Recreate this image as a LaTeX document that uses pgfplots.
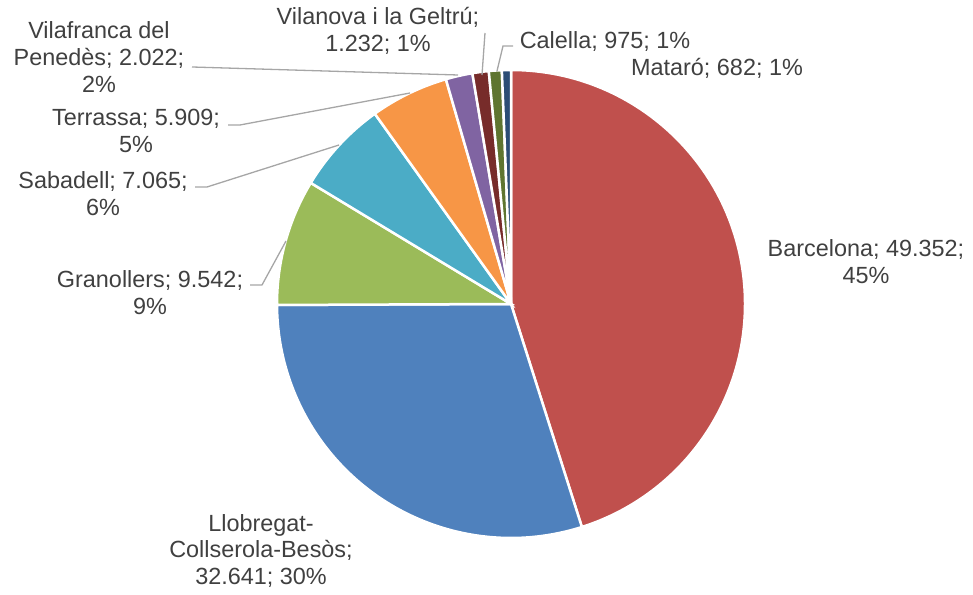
\documentclass[border=0pt]{standalone}
\usepackage{pgfplots}
\usepackage{pgfplotstable}
\pgfplotsset{compat=1.18}
\usepackage{fontspec}
\setmainfont{Liberation Sans}

\definecolor{c0}{HTML}{C0504D}
\definecolor{c1}{HTML}{4F81BD}
\definecolor{c2}{HTML}{9BBB59}
\definecolor{c3}{HTML}{4BACC6}
\definecolor{c4}{HTML}{F79646}
\definecolor{c5}{HTML}{8064A2}
\definecolor{c6}{HTML}{772C2A}
\definecolor{c7}{HTML}{5F7530}
\definecolor{c8}{HTML}{2C4D75}
\definecolor{lbl}{HTML}{404040}
\definecolor{lead}{HTML}{A6A6A6}

% zone, value (clockwise from 12 o'clock)
\pgfplotstableread{
name value
Barcelona 49352
Llobregat 32641
Granollers 9542
Sabadell 7065
Terrassa 5909
Vilafranca 2022
Vilanova 1232
Calella 975
Mataro 682
}\zones

\begin{document}
\begin{tikzpicture}[lab/.style={align=center, text=lbl, font=\fontsize{23.5}{27}\selectfont}]
\begin{axis}[hide axis, scale only axis, width=973bp, height=595bp,
  xmin=0, xmax=973, ymin=0, ymax=595, clip=false]
\path (axis cs:0,0) rectangle (axis cs:973,595);
\pgfplotsextra{
  \gdef\tot{0}
  \foreach \i in {0,...,8}{
    \pgfplotstablegetelem{\i}{value}\of\zones
    \xdef\tot{\fpeval{\tot+\pgfplotsretval}}
  }
  \gdef\cum{0}
  \foreach \i in {0,...,8}{
    \pgfplotstablegetelem{\i}{value}\of\zones
    \edef\aa{\fpeval{90-360*\cum/\tot}}
    \xdef\cum{\fpeval{\cum+\pgfplotsretval}}
    \edef\bb{\fpeval{90-360*\cum/\tot}}
    \filldraw[fill=c\i, draw=white, line width=2.5bp]
      (axis cs:511,291) -- ++(\aa:234bp) arc[start angle=\aa, end angle=\bb, radius=234bp] -- cycle;
  }
}
% leader lines
\draw[lead, line width=1.3bp] (axis cs:192,528) -- (axis cs:458,520);
\draw[lead, line width=1.3bp] (axis cs:228,470) -- (axis cs:240,470) -- (axis cs:410,502);
\draw[lead, line width=1.3bp] (axis cs:195,408) -- (axis cs:207,408) -- (axis cs:339,450);
\draw[lead, line width=1.3bp] (axis cs:250,310) -- (axis cs:262,310) -- (axis cs:286,354);
\draw[lead, line width=1.3bp] (axis cs:485,562) -- (axis cs:482,520);
\draw[lead, line width=1.3bp] (axis cs:513,549) -- (axis cs:503,549) -- (axis cs:497,524);
% labels
\node[lab] at (axis cs:866,333) {Barcelona; 49.352;\\45\%};
\node[lab] at (axis cs:261,44) {Llobregat-\\Collserola-Besòs;\\32.641; 30\%};
\node[lab] at (axis cs:150,302) {Granollers; 9.542;\\9\%};
\node[lab] at (axis cs:103,401) {Sabadell; 7.065;\\6\%};
\node[lab] at (axis cs:136,464) {Terrassa; 5.909;\\5\%};
\node[lab] at (axis cs:99,538) {Vilafranca del\\Penedès; 2.022;\\2\%};
\node[lab] at (axis cs:378,564) {Vilanova i la Geltrú;\\1.232; 1\%};
\node[lab] at (axis cs:605,553) {Calella; 975; 1\%};
\node[lab] at (axis cs:717,527) {Mataró; 682; 1\%};
\end{axis}
\end{tikzpicture}
\end{document}
